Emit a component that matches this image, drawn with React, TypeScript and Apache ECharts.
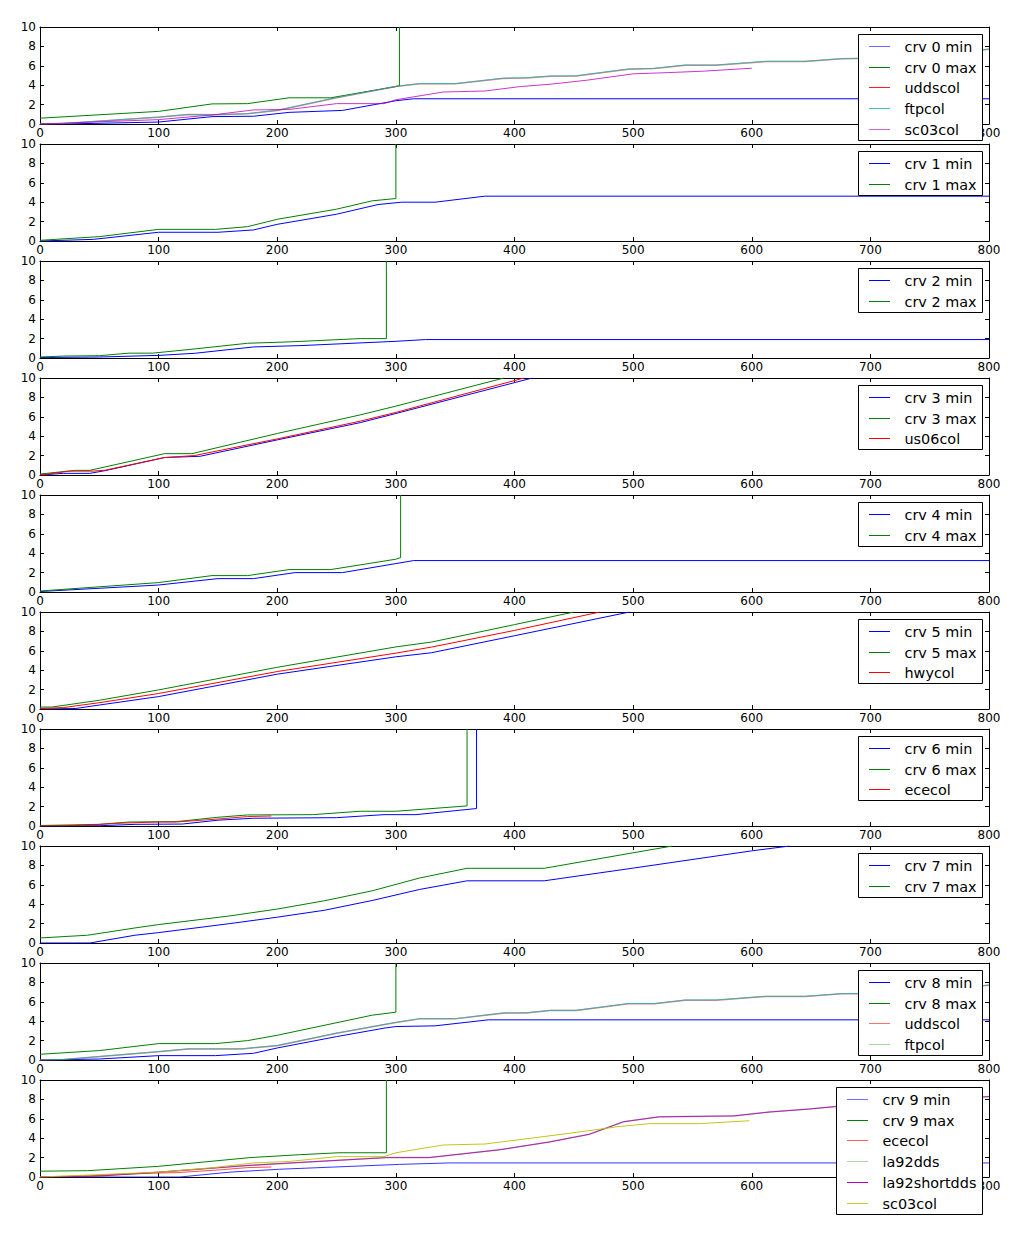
import React, { useEffect, useRef } from 'react';
import * as echarts from 'echarts';

type Pt = [number, number];

// ---- axis ticks ----
const xTickStep = 100;
const xRange: Pt = [0, 800];
const yTickStep = 2;
const yRange: Pt = [0, 10];

// ---- panel 0 ----
const crv0Min: Pt[] = [[0, 0], [20, 0], [100, 0.2], [145, 0.76], [180, 0.8], [210, 1.2], [255, 1.4], [300, 2.4], [315, 2.6], [800, 2.6]];
const crv0Max: Pt[] = [[0, 0.6], [100, 1.3], [145, 2.07], [175, 2.1], [210, 2.7], [245, 2.7], [300, 3.86], [303, 3.95], [303, 10]];
const uddscol0: Pt[] = [[0, 0], [20, 0.05], [100, 0.7], [125, 0.97], [150, 0.95], [175, 1.05], [200, 1.4], [250, 2.7], [300, 3.86], [320, 4.14], [350, 4.14], [390, 4.7], [410, 4.75], [430, 4.92], [452, 4.95], [496, 5.65], [518, 5.72], [544, 6.06], [570, 6.06], [612, 6.44], [645, 6.44], [676, 6.72], [720, 6.8], [760, 7.2], [800, 7.7]];
const ftpcol0: Pt[] = [[0, 0], [20, 0.05], [100, 0.72], [125, 0.98], [150, 0.96], [175, 1.06], [200, 1.42], [250, 2.72], [300, 3.88], [320, 4.16], [350, 4.16], [390, 4.72], [410, 4.77], [430, 4.94], [452, 4.97], [496, 5.67], [518, 5.74], [544, 6.08], [570, 6.08], [612, 6.46], [645, 6.46], [676, 6.74], [720, 6.82], [760, 7.22], [800, 7.72]];
const sc03col0: Pt[] = [[0, 0], [100, 0.45], [145, 0.93], [180, 1.45], [210, 1.5], [250, 2.1], [290, 2.1], [300, 2.5], [340, 3.3], [375, 3.4], [405, 3.86], [430, 4.1], [460, 4.5], [500, 5.17], [530, 5.3], [560, 5.45], [600, 5.75]];

// ---- panel 1 ----
const crv1Min: Pt[] = [[0, 0], [45, 0.17], [100, 0.9], [150, 0.9], [180, 1.14], [200, 1.72], [250, 2.76], [285, 3.76], [305, 4.0], [333, 4.0], [375, 4.62], [800, 4.62]];
const crv1Max: Pt[] = [[0, 0.07], [50, 0.45], [100, 1.2], [148, 1.2], [175, 1.48], [200, 2.24], [250, 3.28], [280, 4.14], [300, 4.38], [300, 10]];

// ---- panel 2 ----
const crv2Min: Pt[] = [[0, 0.05], [50, 0.1], [100, 0.27], [130, 0.48], [180, 1.14], [220, 1.28], [300, 1.72], [325, 1.9], [800, 1.9]];
const crv2Max: Pt[] = [[0, 0.1], [20, 0.2], [50, 0.24], [75, 0.5], [95, 0.5], [130, 0.93], [175, 1.52], [210, 1.66], [270, 2.0], [292, 2.0], [292, 10]];

// ---- panel 3 ----
const crv3Min: Pt[] = [[0, 0], [20, 0.17], [42, 0.17], [55, 0.45], [105, 1.8], [135, 1.93], [200, 3.62], [270, 5.4], [300, 6.34], [415, 10]];
const crv3Max: Pt[] = [[0, 0.1], [30, 0.48], [42, 0.48], [105, 2.2], [128, 2.2], [200, 4.28], [270, 6.2], [300, 7.1], [391, 10]];
const us06col3: Pt[] = [[0, 0], [25, 0.4], [45, 0.4], [55, 0.5], [105, 1.8], [130, 2.0], [200, 3.72], [270, 5.55], [300, 6.45], [408, 10]];

// ---- panel 4 ----
const crv4Min: Pt[] = [[0, 0.05], [100, 0.72], [150, 1.38], [180, 1.38], [215, 2.0], [255, 2.0], [300, 2.93], [315, 3.24], [800, 3.24]];
const crv4Max: Pt[] = [[0, 0.1], [100, 0.97], [145, 1.69], [175, 1.69], [210, 2.31], [245, 2.31], [300, 3.38], [304, 3.55], [304, 10]];

// ---- panel 5 ----
const crv5Min: Pt[] = [[0, 0], [30, 0.05], [50, 0.41], [100, 1.28], [200, 3.59], [300, 5.38], [330, 5.8], [400, 7.55], [497, 10]];
const crv5Max: Pt[] = [[0, 0.2], [10, 0.2], [50, 0.9], [100, 1.97], [200, 4.3], [300, 6.4], [330, 6.9], [400, 8.7], [450, 10]];
const hwycol5: Pt[] = [[0, 0.05], [20, 0.15], [50, 0.65], [100, 1.6], [200, 3.86], [300, 5.76], [330, 6.38], [400, 8.1], [472, 10]];

// ---- panel 6 ----
const crv6Min: Pt[] = [[0, 0], [50, 0.03], [80, 0.17], [120, 0.2], [150, 0.6], [180, 0.8], [250, 0.86], [290, 1.17], [317, 1.17], [368, 1.8], [368, 10]];
const crv6Max: Pt[] = [[0, 0.05], [50, 0.17], [75, 0.41], [115, 0.45], [150, 0.9], [175, 1.14], [230, 1.17], [270, 1.52], [300, 1.52], [360, 2.07], [360, 10]];
const ececol6: Pt[] = [[0, 0], [20, 0.02], [40, 0.1], [70, 0.3], [100, 0.41], [115, 0.41], [150, 0.72], [175, 0.97], [195, 1.03]];

// ---- panel 7 ----
const crv7Min: Pt[] = [[0, 0], [42, 0], [80, 0.8], [100, 1.07], [160, 2.0], [200, 2.66], [240, 3.38], [280, 4.38], [320, 5.52], [360, 6.41], [425, 6.41], [500, 7.72], [600, 9.5], [632, 10]];
const crv7Max: Pt[] = [[0, 0.52], [40, 0.8], [80, 1.55], [100, 1.9], [160, 2.79], [200, 3.5], [240, 4.36], [280, 5.38], [320, 6.7], [360, 7.7], [425, 7.7], [500, 9.3], [533, 10]];

// ---- panel 8 ----
const crv8Min: Pt[] = [[0, 0], [50, 0.1], [100, 0.45], [148, 0.45], [180, 0.69], [200, 1.24], [250, 2.41], [290, 3.28], [300, 3.45], [333, 3.52], [378, 4.14], [800, 4.14]];
const crv8Max: Pt[] = [[0, 0.59], [50, 0.97], [100, 1.69], [148, 1.69], [175, 2.0], [200, 2.55], [280, 4.62], [300, 4.93], [300, 10]];
const uddscol8: Pt[] = [[0, 0], [20, 0.05], [100, 0.86], [125, 1.14], [170, 1.14], [200, 1.48], [250, 2.75], [300, 3.86], [320, 4.24], [350, 4.24], [390, 4.83], [410, 4.85], [430, 5.1], [452, 5.1], [496, 5.8], [518, 5.8], [544, 6.17], [570, 6.17], [612, 6.55], [645, 6.55], [676, 6.82], [720, 6.85], [760, 7.3], [800, 7.7]];
const ftpcol8: Pt[] = [[0, 0], [20, 0.05], [100, 0.87], [125, 1.15], [170, 1.15], [200, 1.5], [250, 2.77], [300, 3.88], [320, 4.26], [350, 4.26], [390, 4.85], [410, 4.87], [430, 5.12], [452, 5.12], [496, 5.82], [518, 5.82], [544, 6.19], [570, 6.19], [612, 6.57], [645, 6.57], [676, 6.84], [720, 6.87], [760, 7.32], [800, 7.72]];

// ---- panel 9 ----
const crv9Min: Pt[] = [[0, 0], [118, 0], [160, 0.5], [202, 0.8], [303, 1.3], [345, 1.45], [800, 1.45]];
const crv9Max: Pt[] = [[0, 0.6], [40, 0.65], [100, 1.1], [177, 2.0], [219, 2.3], [252, 2.5], [292, 2.5], [292, 10]];
const ececol9: Pt[] = [[0, 0], [40, 0.1], [70, 0.3], [100, 0.41], [115, 0.45], [150, 0.72], [175, 0.97], [195, 1.03]];
const la92dds9: Pt[] = [[0, 0], [50, 0.1], [100, 0.5], [177, 1.2], [219, 1.5], [292, 2.0], [328, 2.0], [387, 2.8], [429, 3.6], [463, 4.4], [492, 5.7], [522, 6.2], [585, 6.3], [615, 6.7], [648, 7.0], [674, 7.3], [720, 7.5], [800, 8.3]];
const la92shortdds9: Pt[] = [[0, 0], [50, 0.1], [100, 0.5], [177, 1.2], [219, 1.5], [292, 2.0], [328, 2.0], [387, 2.8], [429, 3.6], [463, 4.4], [492, 5.7], [522, 6.2], [585, 6.3], [615, 6.7], [648, 7.0], [674, 7.3], [720, 7.5], [800, 8.3]];
const sc03col9: Pt[] = [[0, 0], [100, 0.5], [145, 0.95], [180, 1.45], [210, 1.6], [250, 2.1], [290, 2.1], [300, 2.5], [340, 3.3], [375, 3.4], [405, 3.86], [446, 4.5], [488, 5.2], [514, 5.5], [556, 5.5], [598, 5.8]];

type S = { name: string; data: Pt[]; color: string; opacity: number; width?: number; legendColor: string };

const BLUE = '#0000ff', GREEN = '#008000', RED = '#ff0000', CYAN = '#00bfbf', MAG = '#bf00bf', YEL = '#bfbf00';

const panels: S[][] = [
  [
    { name: 'crv 0 min', data: crv0Min, color: BLUE, opacity: 1, legendColor: '#6a6aff' },
    { name: 'crv 0 max', data: crv0Max, color: GREEN, opacity: 1, legendColor: GREEN },
    { name: 'uddscol', data: uddscol0, color: RED, opacity: 0.5, width: 1.5, legendColor: '#ff2020' },
    { name: 'ftpcol', data: ftpcol0, color: CYAN, opacity: 0.8, legendColor: '#40c0c0' },
    { name: 'sc03col', data: sc03col0, color: MAG, opacity: 0.8, legendColor: '#d860d8' },
  ],
  [
    { name: 'crv 1 min', data: crv1Min, color: BLUE, opacity: 1, legendColor: BLUE },
    { name: 'crv 1 max', data: crv1Max, color: GREEN, opacity: 1, legendColor: GREEN },
  ],
  [
    { name: 'crv 2 min', data: crv2Min, color: BLUE, opacity: 1, legendColor: BLUE },
    { name: 'crv 2 max', data: crv2Max, color: GREEN, opacity: 1, legendColor: GREEN },
  ],
  [
    { name: 'crv 3 min', data: crv3Min, color: BLUE, opacity: 1, legendColor: BLUE },
    { name: 'crv 3 max', data: crv3Max, color: GREEN, opacity: 1, legendColor: GREEN },
    { name: 'us06col', data: us06col3, color: RED, opacity: 1, legendColor: RED },
  ],
  [
    { name: 'crv 4 min', data: crv4Min, color: BLUE, opacity: 1, legendColor: BLUE },
    { name: 'crv 4 max', data: crv4Max, color: GREEN, opacity: 1, legendColor: GREEN },
  ],
  [
    { name: 'crv 5 min', data: crv5Min, color: BLUE, opacity: 1, legendColor: BLUE },
    { name: 'crv 5 max', data: crv5Max, color: GREEN, opacity: 1, legendColor: GREEN },
    { name: 'hwycol', data: hwycol5, color: RED, opacity: 1, legendColor: RED },
  ],
  [
    { name: 'crv 6 min', data: crv6Min, color: BLUE, opacity: 1, legendColor: BLUE },
    { name: 'crv 6 max', data: crv6Max, color: GREEN, opacity: 1, legendColor: GREEN },
    { name: 'ececol', data: ececol6, color: RED, opacity: 0.9, legendColor: RED },
  ],
  [
    { name: 'crv 7 min', data: crv7Min, color: BLUE, opacity: 1, legendColor: BLUE },
    { name: 'crv 7 max', data: crv7Max, color: GREEN, opacity: 1, legendColor: GREEN },
  ],
  [
    { name: 'crv 8 min', data: crv8Min, color: BLUE, opacity: 1, legendColor: BLUE },
    { name: 'crv 8 max', data: crv8Max, color: GREEN, opacity: 1, legendColor: GREEN },
    { name: 'uddscol', data: uddscol8, color: RED, opacity: 0.5, width: 1.5, legendColor: '#ff7070' },
    { name: 'ftpcol', data: ftpcol8, color: CYAN, opacity: 0.8, legendColor: '#a0d8a0' },
  ],
  [
    { name: 'crv 9 min', data: crv9Min, color: BLUE, opacity: 0.8, legendColor: '#7070ff' },
    { name: 'crv 9 max', data: crv9Max, color: GREEN, opacity: 1, legendColor: GREEN },
    { name: 'ececol', data: ececol9, color: RED, opacity: 0.7, legendColor: '#ff6060' },
    { name: 'la92dds', data: la92dds9, color: GREEN, opacity: 0.35, width: 1.5, legendColor: '#a8d8a8' },
    { name: 'la92shortdds', data: la92shortdds9, color: MAG, opacity: 0.9, legendColor: MAG },
    { name: 'sc03col', data: sc03col9, color: YEL, opacity: 0.9, legendColor: '#c8c830' },
  ],
];

const FONT = '"DejaVu Sans", "Liberation Sans", sans-serif';
const GRID_LEFT = 40;
const GRID_WIDTH = 949;
const GRID_TOP0 = 27;
const GRID_STEP = 117;
const GRID_HEIGHT = 97;
const LEGEND_FONT = 14.4;

export default function App() {
  const ref = useRef<HTMLDivElement>(null);
  useEffect(() => {
    document.body.style.margin = '0';
    if (!ref.current) return;
    const chart = echarts.init(ref.current, null, { renderer: 'svg' });

    const ctx = document.createElement('canvas').getContext('2d')!;
    ctx.font = `${LEGEND_FONT}px "DejaVu Sans"`;

    const grids: any[] = [];
    const xAxes: any[] = [];
    const yAxes: any[] = [];
    const series: any[] = [];
    const graphics: any[] = [];

    const axisLine = { show: true, onZero: false, lineStyle: { color: '#000', width: 1 } };
    const axisTick = { show: true, inside: true, length: 4, lineStyle: { color: '#000', width: 1 } };

    panels.forEach((panel, i) => {
      const top = GRID_TOP0 + GRID_STEP * i;
      grids.push({ left: GRID_LEFT, top, width: GRID_WIDTH, height: GRID_HEIGHT, show: false });
      const xBase = {
        gridIndex: i, type: 'value', min: xRange[0], max: xRange[1], interval: xTickStep,
        axisLine, axisTick, splitLine: { show: false },
      };
      xAxes.push({ ...xBase, position: 'bottom', axisLabel: { color: '#000', fontSize: 12, fontFamily: FONT, margin: 3 } });
      xAxes.push({ ...xBase, position: 'top', axisLabel: { show: false } });
      const yBase = {
        gridIndex: i, type: 'value', min: yRange[0], max: yRange[1], interval: yTickStep,
        axisLine, axisTick, splitLine: { show: false },
      };
      yAxes.push({ ...yBase, position: 'left', axisLabel: { color: '#000', fontSize: 12, fontFamily: FONT, margin: 4 } });
      yAxes.push({ ...yBase, position: 'right', axisLabel: { show: false } });

      panel.forEach((s) => {
        series.push({
          type: 'line', name: s.name, xAxisIndex: 2 * i, yAxisIndex: 2 * i,
          data: s.data, showSymbol: false, symbol: 'none', clip: true,
          lineStyle: { color: s.color, width: s.width ?? 1, opacity: s.opacity },
          itemStyle: { color: s.color }, silent: true, z: 2,
        });
      });

      // legend (matplotlib-style)
      const maxW = Math.max(...panel.map((s) => ctx.measureText(s.name).width));
      const right = 982.5;
      const boxW = Math.round(maxW + 52);
      const left = right - boxW;
      const boxTop = top + 7.5;
      const firstY = top + 19;
      const rowH = 20.7;
      const lastY = firstY + rowH * (panel.length - 1);
      const boxH = Math.round(lastY + 11.5 - boxTop);
      graphics.push({
        type: 'rect', z: 200, silent: true,
        shape: { x: left, y: boxTop, width: boxW, height: boxH },
        style: { fill: '#ffffff', stroke: '#000000', lineWidth: 1 },
      });
      panel.forEach((s, k) => {
        const y = Math.round(firstY + rowH * k);
        graphics.push({
          type: 'rect', z: 201, silent: true,
          shape: { x: Math.round(left + 10), y, width: 21, height: 1 },
          style: { fill: s.legendColor, stroke: 'none', lineWidth: 0 },
        });
        graphics.push({
          type: 'text', z: 201, silent: true, x: left + 46, y: y + 0.5,
          style: { text: s.name, fontSize: LEGEND_FONT, fontFamily: FONT, fill: '#000', verticalAlign: 'middle', align: 'left' },
        });
      });
    });

    chart.setOption({
      animation: false,
      backgroundColor: '#fff',
      grid: grids,
      xAxis: xAxes,
      yAxis: yAxes,
      series,
      graphic: { elements: graphics },
    });
    return () => chart.dispose();
  }, []);
  return <div ref={ref} style={{ width: 1030, height: 1240 }} />;
}
